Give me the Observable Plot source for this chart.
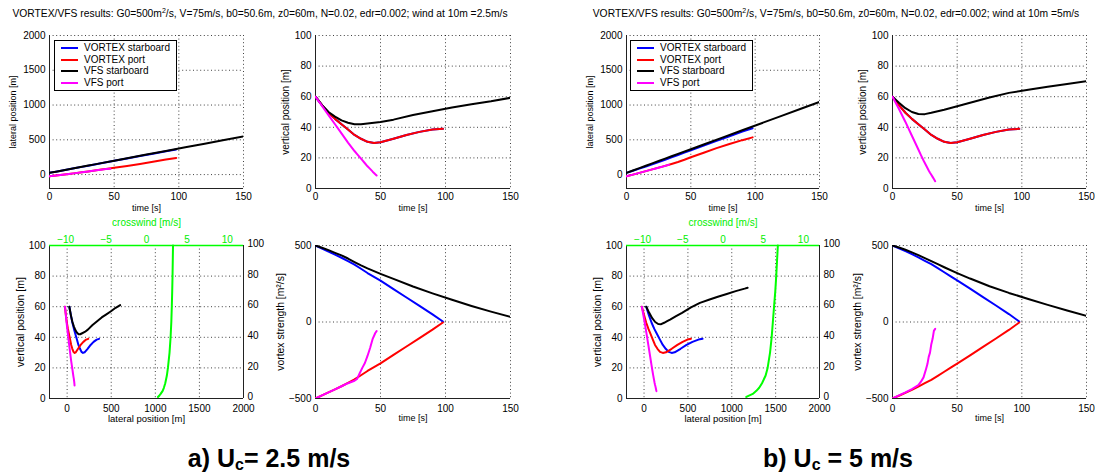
<!DOCTYPE html>
<html><head><meta charset="utf-8">
<script src="https://cdn.jsdelivr.net/npm/d3@7"></script>
<script src="https://cdn.jsdelivr.net/npm/@observablehq/plot@0.6"></script>
<style>
html,body{margin:0;padding:0;background:#fff;}
#root{position:relative;width:1095px;height:473px;overflow:hidden;background:#fff;font-family:"Liberation Sans",Arial,Helvetica,sans-serif;color:#000;}
.title{position:absolute;top:8px;font-size:10.3px;line-height:12px;white-space:nowrap;transform:translateX(-50%);}
.title sup{font-size:7px;line-height:0;vertical-align:4px;}
.caption{position:absolute;top:446px;font-size:25px;line-height:25px;font-weight:bold;white-space:nowrap;transform:translateX(-50%);}
.caption sub{font-size:16px;line-height:0;vertical-align:-3px;}
.legend{position:absolute;width:121px;height:49px;border:1px solid #000;background:#fff;}
.legend .row{position:absolute;left:0;height:12px;width:120px;font-size:10px;line-height:12px;white-space:nowrap;}
.legend .sw{position:absolute;left:6px;top:5px;width:17px;height:2px;}
.legend .lb{position:absolute;left:29px;top:0;}
</style></head>
<body><div id="root"></div>
<script>
// ---------------- data: case a) wind at 10 m = 2.5 m/s ----------------
const A_VS_T   = [0,5,10,15,20,25,30,35,40,45,50,60,70,80,90,98];
const A_VS_LAT = [25,42,60,77,94,111,128,146,163,180,198,232,266,300,335,362];
const A_VS_Z   = [60,54.5,49.5,45.5,42,38.5,35,32.5,30.5,29.8,30.2,32.5,35,37,38.5,39];
const A_VS_G   = [500,480,460,440,420,398,375,348,320,295,270,215,160,105,50,3];

const A_VP_T   = [0,5,10,15,20,25,30,35,40,45,50,60,70,80,90,98];
const A_VP_LAT = [-25,-14,-3,9,21,34,46,59,72,85,98,124,153,184,216,240];
const A_VP_Z   = [60,54.5,49.5,45.5,42,38.5,35,32.5,30.5,29.8,30.2,32.5,35,37,38.5,39];
const A_VP_G   = [-500,-480,-460,-440,-420,-398,-375,-348,-320,-295,-270,-215,-160,-105,-50,-3];

const A_FS_T   = [0,5,10,15,20,25,30,35,40,50,60,75,90,105,120,135,150,165];
const A_FS_LAT = [25,42,60,77,95,112,130,147,165,200,235,288,340,392,445,497,550,602];
const A_FS_Z   = [60,54.5,50,47,44.5,43,42,42,42.5,43.5,45,48,50.5,53,55,57,59.3,61];
const A_FS_G   = [500,485,470,452,435,415,392,370,350,315,282,232,187,145,105,68,33,5];

const A_FP_T   = [0,5,10,15,20,25,30,32,34,36,38,40,42,44,46,47];
const A_FP_LAT = [-25,-14,-3,9,21,34,46,51,56,61,66,71,76,80,83,84];
const A_FP_Z   = [60,54,48,42,36,30,24.5,22.5,20.5,18.5,16.5,14.5,12.8,11,9.3,8.5];
const A_FP_G   = [-500,-480,-460,-440,-420,-400,-384,-372,-335,-300,-268,-222,-170,-110,-72,-60];

const CW_Z     = [1,2,3,5,7,10,15,20,30,40,50,60,70,80,90,100];
const A_CW     = [1.42,1.6,1.75,2.0,2.15,2.32,2.52,2.65,2.85,2.98,3.07,3.13,3.18,3.22,3.25,3.28];

// ---------------- data: case b) wind at 10 m = 5 m/s ----------------
const B_VS_T   = [0,5,10,15,20,25,30,35,40,45,50,60,70,80,90,98];
const B_VS_LAT = [25,55,86,117,149,181,214,247,281,315,349,416,484,552,620,667];
const B_VS_Z   = [60,54.5,49.5,45.5,42,38.5,35,32.5,30.5,29.8,30.2,32.5,35,37,38.5,39];
const B_VS_G   = [500,482,463,443,422,400,378,352,325,298,272,218,163,108,52,3];

const B_VP_T   = [0,5,10,15,20,25,30,35,40,45,50,60,70,80,90,98];
const B_VP_LAT = [-25,0,25,50,75,100,125,153,182,214,250,315,380,440,495,535];
const B_VP_Z   = [60,54.5,49.5,45.5,42,38.5,35,32.5,30.5,29.8,30.2,32.5,35,37,38.5,39];
const B_VP_G   = [-500,-482,-463,-443,-422,-400,-378,-352,-325,-298,-272,-218,-163,-108,-52,-3];

const B_FS_T   = [0,5,10,15,20,25,30,35,40,50,60,75,90,105,120,135,150,165,170];
const B_FS_LAT = [25,59,93,127,161,195,229,263,297,365,433,535,637,739,841,943,1045,1147,1181];
const B_FS_Z   = [60,56,52.5,50,48.7,48.6,49.5,50.5,51.5,53.8,56,59.5,62.5,64.5,66.5,68.3,70.2,71.8,72.4];
const B_FS_G   = [500,487,472,455,437,418,398,378,358,320,284,234,190,150,112,75,40,12,3];

const B_FP_T   = [0,5,10,15,20,22,24,26,27,28,29,30,31,32,33];
const B_FP_LAT = [-25,0,25,50,75,85,95,105,110,115,120,125,131,136,141];
const B_FP_Z   = [60,52,43.5,34.5,25.5,21.8,18.3,15,13.4,11.8,10.3,9,7.6,6.2,4.8];
const B_FP_G   = [-500,-480,-460,-438,-413,-390,-362,-305,-275,-228,-200,-145,-110,-58,-45];

const B_CW     = [2.9,3.3,3.7,4.15,4.5,4.85,5.3,5.55,5.85,6.05,6.2,6.35,6.5,6.62,6.72,6.82];

// ---------------- labels / ticks ----------------
const SERIES_NAMES = ["VORTEX starboard","VORTEX port","VFS starboard","VFS port"];
const SERIES_COLORS = ["#0000ff","#ff0000","#000000","#ff00ff"];
const TIME_TICKS = [0,50,100,150];
const LAT_TICKS = [0,500,1000,1500,2000];
const Z_TICKS = [0,20,40,60,80,100];
const G_TICKS = [-500,0,500];
const CW_TICKS = [-10,-5,0,5,10];

// ---------------- rendering ----------------
const root = document.getElementById("root");
const FONT = '"Liberation Sans", Arial, Helvetica, sans-serif';
const M = {l:45, r:35, t:30, b:28};
const GRID = {stroke:"#000", strokeOpacity:0.75, strokeDasharray:"1,2.6", strokeWidth:1};
const AXIS = {stroke:"#222", strokeWidth:1};
const fmt = d => d < 0 ? "\u2212" + (-d) : String(d);

function pts(X, Y) { return X.map((x, i) => ({x, y: Y[i]})); }

function panel(rect, xDomain, yDomain, marks, yAxisNull) {
  const [x0, x1, y0, y1] = rect;
  const svg = Plot.plot({
    width: x1 - x0 + M.l + M.r,
    height: y1 - y0 + M.t + M.b,
    marginLeft: M.l, marginRight: M.r, marginTop: M.t, marginBottom: M.b,
    x: {domain: xDomain, type: "linear"},
    y: yAxisNull ? {domain: yDomain, type: "linear", axis: null} : {domain: yDomain, type: "linear"},
    style: {background: "transparent", fontFamily: FONT, fontSize: "10px", color: "#000", overflow: "visible"},
    marks
  });
  svg.style.position = "absolute";
  svg.style.left = (x0 - M.l) + "px";
  svg.style.top = (y0 - M.t) + "px";
  root.appendChild(svg);
}

function ylabel(text, dx, size) {
  return Plot.text([text], {text: d => d, frameAnchor: "left", rotate: -90, dx, textAnchor: "middle", lineAnchor: "middle", fontSize: size, fill: "#000"});
}
function xlabel(text, dy, size) {
  return Plot.text([text], {text: d => d, frameAnchor: "bottom", dy, textAnchor: "middle", lineAnchor: "middle", fontSize: size, fill: "#000"});
}
function xAxis(ticks, pad) { return Plot.axisX(ticks, {tickSize: 0, tickPadding: pad || 4, label: null, tickFormat: fmt, fontSize: 10}); }
function yAxis(ticks, anchor, dy) { return Plot.axisY(ticks, {anchor: anchor || "left", tickSize: 0, tickPadding: 4, label: null, tickFormat: fmt, fontSize: 10, dy: dy || 0}); }

function lines(list, clip) {
  return list.map((d, i) => Plot.line(d, {x: "x", y: "y", stroke: SERIES_COLORS[i], strokeWidth: 2, clip: !!clip}));
}

function legend(left, top) {
  const div = document.createElement("div");
  div.className = "legend";
  div.style.left = left + "px";
  div.style.top = top + "px";
  SERIES_NAMES.forEach((name, i) => {
    const row = document.createElement("div");
    row.className = "row";
    row.style.top = (1 + i * 11.7) + "px";
    row.innerHTML = `<span class="sw" style="background:${SERIES_COLORS[i]}"></span><span class="lb">${name}</span>`;
    div.appendChild(row);
  });
  root.appendChild(div);
}

function scenario(S) {
  const TL = [S.tl[0], S.tl[1], 35, 188];
  const TR = [S.tr[0], S.tr[1], 35, 188];
  const BL = [S.tl[0], S.tl[1], 245, 398];
  const BR = [S.tr[0], S.tr[1], 245, 398];

  // lateral position vs time
  panel(TL, [0,150], [-200,2000], [
    Plot.ruleX([50,100,150], GRID),
    Plot.ruleY([0,500,1000,1500,2000], GRID),
    Plot.ruleX([0], AXIS), Plot.ruleY([-200], AXIS),
    xAxis(TIME_TICKS), yAxis(LAT_TICKS),
    ...lines(S.series.map(s => pts(s.t, s.lat)), true),
    ylabel("lateral position [m]", -36, 9),
    xlabel("time [s]", 20, 9)
  ]);
  // vertical position vs time
  panel(TR, [0,150], [0,100], [
    Plot.ruleX([50,100,150], GRID),
    Plot.ruleY([20,40,60,80,100], GRID),
    Plot.ruleX([0], AXIS), Plot.ruleY([0], AXIS),
    xAxis(TIME_TICKS), yAxis(Z_TICKS),
    ...lines(S.series.map(s => pts(s.t, s.z)), true),
    ylabel("vertical position [m]", -30, 10),
    xlabel("time [s]", 20, 9)
  ]);
  // vertical vs lateral (trajectories)
  panel(BL, [-200,2000], [0,100], [
    Plot.ruleX([0,500,1000,1500], GRID),
    Plot.ruleY([20,40,60,80], GRID),
    Plot.ruleX([-200], AXIS), Plot.ruleY([0], AXIS), Plot.ruleX([2000], AXIS),
    xAxis(LAT_TICKS, 6), yAxis(Z_TICKS), yAxis(Z_TICKS, "right", -1.5),
    ...lines(S.series.map(s => pts(s.lat, s.z)), true),
    ylabel("vertical position [m]", -29, 10.5),
    xlabel("lateral position [m]", 20, 9.5)
  ]);
  // crosswind overlay (top axis)
  panel(BL, [-12,12], [0,100], [
    Plot.ruleY([100], {stroke: "#00ff00", strokeWidth: 1.3}),
    Plot.axisX(CW_TICKS, {anchor: "top", tickSize: 0, tickPadding: 3, label: null, tickFormat: fmt, fontSize: 10, fill: "#00ee00", stroke: "#00ee00"}),
    Plot.line(pts(S.cw, CW_Z), {x: "x", y: "y", stroke: "#00ff00", strokeWidth: 2}),
    Plot.text(["crosswind [m/s]"], {text: d => d, frameAnchor: "top", dy: -23, textAnchor: "middle", lineAnchor: "middle", fontSize: 10, fill: "#00ee00"})
  ], true);
  // vortex strength vs time
  panel(BR, [0,150], [-500,500], [
    Plot.ruleX([50,100,150], GRID),
    Plot.ruleY([0,500], GRID),
    Plot.ruleX([0], AXIS), Plot.ruleY([-500], AXIS),
    xAxis(TIME_TICKS, 6), yAxis(G_TICKS),
    ...lines(S.series.map(s => pts(s.t, s.g)), true),
    ylabel("vortex strength [m\u00b2/s]", -35, 10.4),
    xlabel("time [s]", 20, 9)
  ]);
  legend(S.legend[0], S.legend[1]);
}

scenario({
  tl: [49, 243], tr: [315, 510], legend: [54, 40], cw: A_CW,
  series: [
    {t: A_VS_T, lat: A_VS_LAT, z: A_VS_Z, g: A_VS_G},
    {t: A_VP_T, lat: A_VP_LAT, z: A_VP_Z, g: A_VP_G},
    {t: A_FS_T, lat: A_FS_LAT, z: A_FS_Z, g: A_FS_G},
    {t: A_FP_T, lat: A_FP_LAT, z: A_FP_Z, g: A_FP_G}
  ]
});
scenario({
  tl: [626, 819], tr: [892, 1086], legend: [630, 40], cw: B_CW,
  series: [
    {t: B_VS_T, lat: B_VS_LAT, z: B_VS_Z, g: B_VS_G},
    {t: B_VP_T, lat: B_VP_LAT, z: B_VP_Z, g: B_VP_G},
    {t: B_FS_T, lat: B_FS_LAT, z: B_FS_Z, g: B_FS_G},
    {t: B_FP_T, lat: B_FP_LAT, z: B_FP_Z, g: B_FP_G}
  ]
});

// titles & captions
function html(cls, left, inner) {
  const d = document.createElement("div");
  d.className = cls; d.style.left = left + "px"; d.innerHTML = inner;
  root.appendChild(d);
}
html("title", 260, "VORTEX/VFS results: G0=500m<sup>2</sup>/s, V=75m/s, b0=50.6m, z0=60m, N=0.02, edr=0.002; wind at 10m =2.5m/s");
html("title", 836, "VORTEX/VFS results: G0=500m<sup>2</sup>/s, V=75m/s, b0=50.6m, z0=60m, N=0.02, edr=0.002; wind at 10m =5m/s");
html("caption", 269, "a) U<sub>c</sub>= 2.5 m/s");
html("caption", 838, "b) U<sub>c</sub> = 5 m/s");
</script>
</body></html>
